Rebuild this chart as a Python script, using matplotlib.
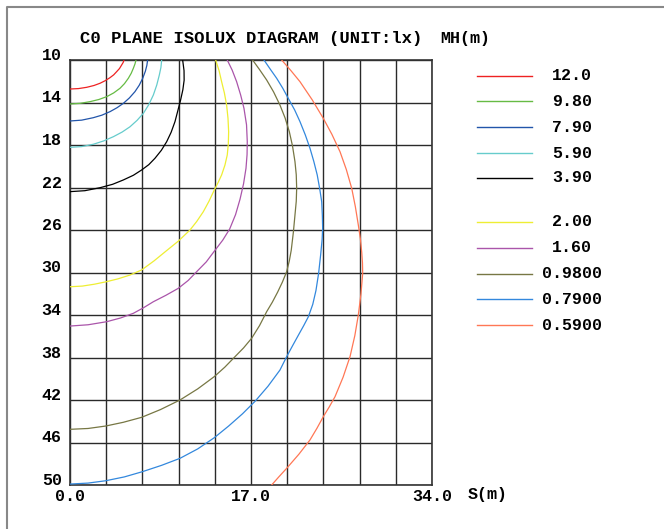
import matplotlib
matplotlib.use("Agg")
import matplotlib.pyplot as plt
from matplotlib.lines import Line2D

plt.rcParams['font.family'] = ['Liberation Mono', 'DejaVu Sans Mono']
plt.rcParams['font.weight'] = 'bold'

# isolux levels (lx) and colours
levels = ["12.0", "9.80", "7.90", "5.90", "3.90", "2.00", "1.60", "0.9800", "0.7900", "0.5900"]
colors = ['#ee2222', '#66bb44', '#2255aa', '#66cccc', '#000000',
          '#eeee33', '#aa55aa', '#777744', '#3388dd', '#ff7755']

# curves: S (m), MH (m)
s_120 = [0, 0.8, 1.57, 2.25, 2.82, 3.3, 3.76, 4.1, 4.38, 4.65, 4.85, 5.0, 5.07]
h_120 = [12.73, 12.69, 12.57, 12.40, 12.19, 11.95, 11.66, 11.40, 11.10, 10.80, 10.47, 10.22, 10.0]

s_980 = [0, 0.95, 1.88, 2.7, 3.45, 4.1, 4.70, 5.12, 5.48, 5.75, 5.95, 6.10, 6.20]
h_980 = [14.14, 14.08, 13.92, 13.72, 13.45, 13.10, 12.66, 12.22, 11.72, 11.25, 10.78, 10.38, 10.0]

s_790 = [0, 1.1, 2.19, 3.0, 3.76, 4.42, 5.01, 5.58, 6.10, 6.50, 6.83, 7.08, 7.22, 7.29]
h_790 = [15.74, 15.66, 15.43, 15.19, 14.86, 14.49, 14.08, 13.57, 12.98, 12.38, 11.72, 11.05, 10.5, 10.0]

s_590 = [0, 1.1, 2.19, 3.15, 4.07, 4.9, 5.64, 6.3, 6.89, 7.4, 7.83, 8.15, 8.39, 8.54, 8.61]
h_590 = [18.22, 18.15, 17.93, 17.62, 17.22, 16.78, 16.28, 15.68, 15.02, 14.20, 13.29, 12.35, 11.41, 10.7, 10.0]

s_390 = [0, 1.4, 2.82, 4.0, 5.01, 5.95, 6.73, 7.4, 7.98, 8.58, 9.08, 9.5, 9.86, 10.12, 10.38, 10.6, 10.72, 10.71, 10.58]
h_390 = [22.39, 22.30, 22.02, 21.70, 21.29, 20.85, 20.35, 19.85, 19.25, 18.50, 17.69, 16.80, 15.80, 14.80, 13.8, 12.8, 11.9, 11.0, 10.0]

s_200 = [0, 1.15, 2.3, 3.45, 4.5, 5.6, 6.73, 7.9, 9.0, 10.17, 11.27, 11.9, 12.52, 13.05, 13.55, 13.9,
         14.24, 14.55, 14.77, 14.87, 14.90, 14.84, 14.71, 14.5, 14.24, 14.0, 13.68]
h_200 = [31.34, 31.28, 31.1, 30.86, 30.6, 30.25, 29.76, 28.9, 28.0, 27.05, 26.0, 25.2, 24.28, 23.3, 22.24, 21.55,
         20.82, 19.9, 18.94, 17.9, 16.75, 15.5, 14.24, 13.1, 12.04, 11.0, 10.0]

s_160 = [0, 1.7, 3.45, 4.75, 5.95, 6.9, 7.83, 9.0, 10.17, 11.1, 11.9, 12.8, 13.55, 14.35, 15.0, 15.55,
         15.97, 16.3, 16.53, 16.63, 16.65, 16.58, 16.34, 16.03, 15.65, 15.23, 14.77]
h_160 = [35.04, 34.92, 34.63, 34.28, 33.84, 33.32, 32.75, 32.15, 31.49, 30.75, 29.92, 29.0, 28.0, 26.95, 25.9, 24.55,
         23.1, 21.65, 20.19, 18.9, 17.69, 16.1, 14.55, 13.3, 12.04, 10.95, 10.0]

s_098 = [0, 1.7, 3.35, 5.0, 6.73, 8.5, 10.33, 12.0, 13.55, 14.55, 15.5, 16.3, 17.06, 17.8, 18.47, 19.0, 19.5,
         19.95, 20.35, 20.6, 20.78, 20.98, 21.13, 21.25, 21.29, 21.25, 21.13, 20.9, 20.6, 20.2, 19.72, 19.12,
         18.47, 17.8, 17.15]
h_098 = [44.76, 44.68, 44.45, 44.1, 43.63, 42.9, 42.0, 40.95, 39.8, 38.9, 37.92, 37.1, 36.19, 35.0, 33.69, 32.8, 31.85,
         30.9, 29.92, 28.9, 27.9, 26.2, 24.59, 23.3, 22.08, 20.8, 19.57, 18.1, 16.75, 15.45, 14.24, 13.0,
         11.88, 10.9, 10.0]

s_079 = [0, 1.7, 3.35, 5.1, 6.79, 8.6, 10.33, 12.0, 13.55, 14.9, 16.2, 17.4, 18.6, 19.72, 20.35, 20.9, 21.45,
         21.95, 22.39, 22.8, 23.1, 23.35, 23.54, 23.68, 23.73, 23.7, 23.64, 23.45, 23.22, 22.9, 22.54, 22.1,
         21.6, 21.1, 20.5, 19.98, 19.41, 18.8, 18.22]
h_079 = [49.91, 49.82, 49.6, 49.24, 48.75, 48.15, 47.49, 46.6, 45.55, 44.45, 43.3, 42.1, 40.7, 39.18, 37.92, 36.9, 35.9,
         35.0, 34.16, 33.0, 31.7, 30.08, 28.35, 26.9, 25.84, 24.6, 23.34, 22.1, 20.82, 19.55, 18.31, 17.05,
         15.8, 14.7, 13.61, 12.65, 11.72, 10.85, 10.0]

s_059 = [18.94, 19.6, 20.35, 21.5, 22.54, 23.2, 23.79, 24.35, 24.89, 25.65, 26.3, 26.75, 27.08, 27.33, 27.49,
         27.47, 27.40, 27.27, 27.08, 26.8, 26.46, 25.95, 25.36, 24.6, 23.79, 22.75, 21.6, 20.75, 19.88]
h_059 = [50, 49.25, 48.43, 47.1, 45.76, 44.65, 43.57, 42.65, 41.69, 39.85, 37.92, 35.95, 34.0, 32.0, 30.08,
         29.1, 28.1, 26.8, 25.53, 23.8, 22.08, 20.3, 18.63, 17.0, 15.49, 13.75, 12.04, 11.0, 10.0]

curves = [(s_120, h_120), (s_980, h_980), (s_790, h_790), (s_590, h_590), (s_390, h_390),
          (s_200, h_200), (s_160, h_160), (s_098, h_098), (s_079, h_079), (s_059, h_059)]

x_grid = [i * 3.4 for i in range(11)]
y_ticks = [10, 14, 18, 22, 26, 30, 34, 38, 42, 46, 50]
x_labels = {0: "0.0", 5: "17.0", 10: "34.0"}

W, H = 664, 529
fig = plt.figure(figsize=(W / 100, H / 100), dpi=100)
ax = fig.add_axes([70 / W, 1 - 485 / H, 362 / W, 425 / H])

for (s, h), c in zip(curves, colors):
    ax.plot(s, h, color=c, lw=0.9, zorder=3, solid_joinstyle='round')

ax.set_xlim(0, 34)
ax.set_ylim(50, 10)
ax.set_xticks(x_grid)
ax.set_xticklabels([x_labels.get(i, "") for i in range(len(x_grid))])
ax.set_yticks(y_ticks)
ax.set_yticklabels([str(v) for v in y_ticks])
ax.grid(True, color='#2a2a2a', lw=1.0)
ax.tick_params(length=0, labelsize=12, pad=3)
ax.tick_params(axis='y', pad=6)
for lab in ax.get_yticklabels():
    lab.set_va('baseline')
    lab.set_fontweight('bold')
for lab in ax.get_xticklabels():
    lab.set_fontweight('bold')
for sp in ax.spines.values():
    sp.set_color('#333333')
    sp.set_linewidth(1.2)

fig.text(80 / W, 1 - 38 / H, "C0 PLANE ISOLUX DIAGRAM (UNIT:lx)", fontsize=12.4,
         fontweight='bold', ha='left', va='center')
fig.text(440 / W, 1 - 38 / H, "MH(m)", fontsize=12, fontweight='bold', ha='left', va='center')
fig.text(468 / W, 1 - 495 / H, "S(m)", fontsize=12, fontweight='bold', ha='left', va='center')

# legend
leg_y = [76, 101, 127, 153, 178, 222, 248, 274, 299, 325]
for lv, c, yy in zip(levels, colors, leg_y):
    fig.add_artist(Line2D([477 / W, 532 / W], [1 - yy / H, 1 - yy / H], color=c, lw=1.0))
    fig.text(572 / W, 1 - yy / H, lv, fontsize=12, fontweight='bold', ha='center', va='center')

# outer frame
fig.add_artist(Line2D([7 / W, 7 / W, 1], [0, 1 - 7 / H, 1 - 7 / H], color='#888888', lw=1.5))

fig.savefig("out.png", dpi=100)
